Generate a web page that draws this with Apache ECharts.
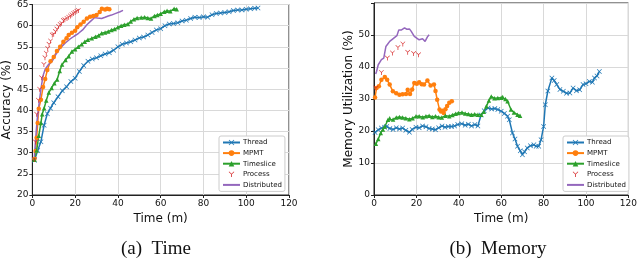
<!DOCTYPE html>
<html><head><meta charset="utf-8">
<script src="https://cdn.jsdelivr.net/npm/echarts@6/dist/echarts.min.js"></script>
<style>html,body{margin:0;padding:0;background:#fff}#c{width:640px;height:261px}</style>
</head><body><div id="c"></div>
<script>
// ---- (a) Time : accuracy ----
const names = ['Thread','MPMT','Timeslice','Process','Distributed'];
const accThreadT = [1,2.5,4,5.5,7,8.5,10,12,14,16,18,20,22,24,26,28,30,32,34,36,38,40,42,44,46,48,50,52,54,56,58,60,62,64,66,68,70,72,74,76,78,80,82,84,86,88,90,92,94,96,98,100,102,104,105.5];
const accThreadV = [28.2,30.5,32.6,36.5,39.2,40.5,41.8,43.2,44.6,45.6,46.8,47.6,49.2,50.6,51.6,52.1,52.4,52.9,53.3,53.6,54.2,55.0,55.6,55.9,56.2,56.6,57.1,57.3,57.8,58.4,59.0,59.3,60.0,60.4,60.5,60.7,61.1,61.3,61.7,62.0,61.9,62.1,62.0,62.6,62.9,63.0,63.1,63.3,63.6,63.7,63.7,63.9,64.0,64.1,64.2];
const accMpmtT = [1,1.5,2,2.5,3,4,5,6,7,8.5,10,11.5,13,14.5,16,17,18.5,20,21,22.5,24,25.5,27,28.5,30,31.5,32.5,34,35,36];
const accMpmtV = [28.5,30.4,33.5,37,40.4,42.5,45.5,47.4,49.5,51.6,52.6,54.0,55.0,56.2,57.0,57.8,58.3,58.8,59.6,60.3,60.9,61.7,62.1,62.3,62.5,63.2,64.0,63.8,64.0,63.9];
const accTimeT = [1,2,3,4,4.6,5.5,6.5,7.7,9,10.3,11.6,12.8,13.9,15.5,17,18.5,20,21.5,23.1,24.5,26,27.8,29.5,31,32.4,34,35.5,37,38.5,40,41.5,43,44.7,46,47.5,49,50.9,52.5,54,55.5,57.1,58.5,60,61.7,63,64.5,66.3,67.5];
const accTimeV = [28.3,30.5,34,37,39.1,40.5,42.3,44.2,45.3,46.4,47.3,49.3,50.8,51.9,52.8,53.9,54.4,55.0,55.6,56.2,56.7,57.0,57.4,57.7,58.2,58.4,58.6,59.0,59.2,59.6,60.0,60.2,60.4,61.0,61.5,61.8,61.9,62.0,61.8,61.7,62.3,62.5,62.8,63.3,63.5,63.4,64.0,63.9];
const accProcT = [1,1.5,2,2.8,3.4,4.3,5.4,5.9,6.5,7.2,7.8,8.5,9.3,10,10.8,11.5,12.3,13,13.7,14.5,15.2,16.2,17,17.8,18.5,19.3,20,20.8,21.5];
const accProcV = [28.4,32.5,39.1,42.4,45.0,47.7,50.8,52.4,53.5,54.6,55.6,56.4,57.8,58.0,58.6,59.2,59.8,60.3,60.6,61.2,61.4,61.7,62.0,62.3,62.6,62.9,63.1,63.4,63.6];
const accDistT = [0.8,1.5,2.2,3.1,4,5,6,7.5,9.3,11,13,15.4,17.5,19.5,21.6,23.5,25.5,27.8,29,30.5,32.4,34,35.5,37,39,41,42.4];
const accDistV = [28,33,37.5,41.5,45,48.2,49.7,50.8,51.6,53.2,54.7,55.9,56.8,57.5,58.2,59.0,60.2,61.3,61.9,61.8,61.7,62.0,62.3,62.5,62.9,63.3,63.6];

// ---- (b) Memory ----
const memThreadT = [0.5,2,3.5,5,6,7.5,9,10.5,12,13.5,15,16.7,18,19.8,21.3,22.9,24.5,26,27.5,29,30.5,32.1,33.5,35,36.6,38,39.5,41.4,43,44.5,46,47.6,49,50.5,52,53.8,55.5,57,58.4,60,61.5,63,63.8,65.3,66.5,67.7,69,70,71,72.3,73.8,75.4,76.5,77.7,78.8,80,80.8,82,83.9,85,86.2,87.7,89.3,90.8,92.4,93.9,95.5,97,98.6,100,101.6,103,104,105.2,106.3];
const memThreadV = [19.5,20.4,20.9,21.2,21.4,20.8,20.5,21.0,20.6,20.9,20.2,19.6,20.5,21.2,21.0,21.6,21.3,20.8,20.6,20.4,21.0,21.6,21.2,21.4,21.4,21.6,22.0,22.3,21.8,22.1,21.6,22.0,21.6,25.0,26.3,27.2,26.9,27.0,26.7,26.2,25.5,24.6,23.5,19.4,17.5,15.2,13.8,12.6,13.5,14.7,15.4,15.7,15.2,15.2,17.3,21.4,28.2,32.5,36.6,35.8,34.5,33.0,32.4,31.8,31.9,33.4,32.6,32.9,34.5,34.8,35.5,35.2,36.6,37.2,38.6];
const memMpmtT = [0.5,1.2,2.3,3.5,5.1,6.2,7.4,8.9,10.5,12,13.5,15.1,15.9,17,18,19,20.2,21.3,22.5,23.6,25.2,26.7,28.3,29,29.8,30.9,31.6,32.4,32.9,33.7,34.5,35.5,36.7];
const memMpmtV = [30.5,33.4,34.0,36.0,36.9,36.0,34.5,32.4,31.8,31.3,31.5,31.6,32.9,31.6,33.0,35.0,34.8,35.2,34.6,34.5,35.8,34.2,34.5,32.5,29.8,26.7,26.1,26.3,25.6,26.8,27.8,28.8,29.3];
const memTimeT = [0.9,2,3.2,4.2,5.1,6.6,7.4,9,10.5,12,13.5,15,16.7,18.2,19.8,21.3,23,24.5,26,27.5,29,30.5,32,33.7,35.5,37,38.5,39.8,41.5,43,44.5,46,47.5,49,50.6,51.8,53,54.2,55.3,56.8,58.4,60,60.7,62,63,64.6,66,67.7,68.9];
const memTimeV = [16,17.5,19.4,20.5,21.4,23.5,24.0,23.6,24.2,24.4,24.2,24.0,23.7,24.0,24.6,24.6,24.3,24.6,24.8,24.4,24.6,24.3,24.2,24.8,24.6,25.0,25.4,25.6,25.8,25.5,25.3,25.1,25.2,25.1,25.1,26.0,27.7,29.5,30.8,30.2,30.3,30.4,30.6,30.0,29.3,26.7,25.8,25.1,24.8];
const memProcT = [0.9,3.5,6.3,8.7,11.3,13.6,15.9,18.7,21];
const memProcV = [33.4,38.3,42.8,44.4,46.1,47.2,44.6,44.2,43.8];
const memDistT = [0.8,1.2,2,3.5,4.6,5.6,6.5,7.4,8.9,9.8,10.8,11.7,13,14.4,15.5,16.7,17.5,18.2,19,19.8,21.3,22.9,24.1,25.2,26];
const memDistV = [37.8,38.6,40.7,42.3,42.8,46.4,47.2,48.0,48.8,48.6,49.8,51.6,51.6,52.2,51.8,51.9,51.2,50.6,49.6,49.0,48.5,48.8,48.0,49.4,50.1];

const xTicks = [0,20,40,60,80,100,120];

const zip = (a,b) => a.map((v,i)=>[v,b[i]]);
const C = {Thread:'#1f77b4', MPMT:'#ff7f0e', Timeslice:'#2ca02c', Process:'#d62728', Distributed:'#9467bd'};
const XSYM = 'path://M0,1L1,0L5,4L9,0L10,1L6,5L10,9L9,10L5,6L1,10L0,9L4,5Z';
const YSYM = 'path://M0,0.8L0.8,0L5,4L9.2,0L10,0.8L5.7,5L5.7,10L4.3,10L4.3,5Z';
const sty = {
  Thread:{symbol:XSYM,size:5,line:1.5},
  MPMT:{symbol:'circle',size:4.5,line:1.5},
  Timeslice:{symbol:'triangle',size:4.5,line:1.5},
  Process:{symbol:YSYM,size:5,line:0},
  Distributed:{symbol:'none',size:0,line:1.5}
};
function mk(name, t, v, idx){
  const s = sty[name];
  return {
    type:'line', name, xAxisIndex:idx, yAxisIndex:idx, data:zip(t,v),
    symbol:s.symbol, symbolSize:s.size, showSymbol:s.symbol!=='none', animation:false,
    itemStyle:{color:C[name]},
    lineStyle:{color:C[name], width:s.line, opacity:s.line?1:0},
    z: name==='Process'?5:3
  };
}
const series = [
  mk('Thread',accThreadT,accThreadV,0), mk('MPMT',accMpmtT,accMpmtV,0), mk('Timeslice',accTimeT,accTimeV,0),
  mk('Process',accProcT,accProcV,0), mk('Distributed',accDistT,accDistV,0),
  mk('Thread',memThreadT,memThreadV,1), mk('MPMT',memMpmtT,memMpmtV,1), mk('Timeslice',memTimeT,memTimeV,1),
  mk('Process',memProcT,memProcV,1), mk('Distributed',memDistT,memDistV,1)
];
const font = 'DejaVu Sans';
const axisCommon = {
  axisLine:{show:true, onZero:false, lineStyle:{color:'#222', width:1}},
  axisTick:{show:true, length:3, lineStyle:{color:'#222'}},
  splitLine:{show:true, lineStyle:{color:'#d9d9d9', width:1}},
  axisLabel:{color:'#111', fontSize:9, fontFamily:font, margin:4}
};
function xAx(idx){
  return Object.assign({}, axisCommon, {type:'value', gridIndex:idx, min:xTicks[0], max:xTicks[xTicks.length-1], interval:20,
    name:'Time (m)', nameLocation:'middle', nameGap:16, nameTextStyle:{fontSize:12, fontFamily:font, color:'#111'}});
}
const legendData = names.map(n=> n==='Distributed'
  ? {name:n, itemStyle:{color:'rgba(0,0,0,0)', borderWidth:0, opacity:0}}
  : {name:n});
const legendCommon = {orient:'vertical', itemWidth:17, itemHeight:7, itemGap:3.6, padding:[3,3,3,3],
  backgroundColor:'#fff', borderColor:'#cccccc', borderWidth:1, borderRadius:2,
  textStyle:{fontSize:7, fontFamily:font, color:'#111', padding:[0,0,0,-2]}, data:legendData, selectedMode:false};

const chart = echarts.init(document.getElementById('c'), null, {renderer:'canvas'});
chart.setOption({
  animation:false,
  grid:[
    {left:30, top:3, width:259, height:192, show:true, borderColor:'#222', borderWidth:1},
    {left:374, top:3, width:259, height:192, show:true, borderColor:'#222', borderWidth:1}
  ],
  xAxis:[xAx(0), xAx(1)],
  yAxis:[
    Object.assign({}, axisCommon, {type:'value', gridIndex:0, min:20, max:65, interval:5,
      name:'Accuracy (%)', nameLocation:'middle', nameGap:17, nameTextStyle:{fontSize:12, fontFamily:font, color:'#111'}}),
    Object.assign({}, axisCommon, {type:'value', gridIndex:1, min:0, max:60, interval:10,
      axisLabel:Object.assign({}, axisCommon.axisLabel, {formatter:v=> v===60?'':String(v)}),
      name:'Memory Utilization (%)', nameLocation:'middle', nameGap:15, nameTextStyle:{fontSize:12, fontFamily:font, color:'#111'}})
  ],
  legend:[
    Object.assign({}, legendCommon, {left:219, top:136}),
    Object.assign({}, legendCommon, {left:563, top:136})
  ],
  graphic:[
    {type:'text', style:{text:'(a)  Time', font:'19px "Liberation Serif"', fill:'#111', x:156, y:249, textAlign:'center', textVerticalAlign:'middle'}},
    {type:'text', style:{text:'(b)  Memory', font:'19px "Liberation Serif"', fill:'#111', x:498, y:249, textAlign:'center', textVerticalAlign:'middle'}}
  ],
  series
});
</script></body></html>
